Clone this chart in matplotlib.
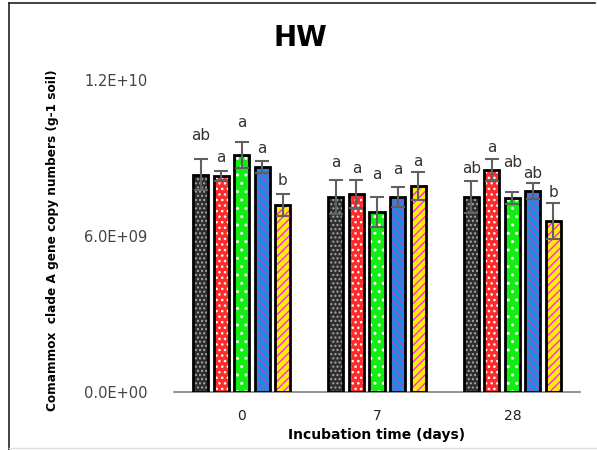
import numpy as np
import matplotlib
matplotlib.use("Agg")
import matplotlib.pyplot as plt
from matplotlib.lines import Line2D

# data (copy numbers per g soil)
days = ['0', '7', '28']
treatments = ['T1', 'T2', 'T3', 'T4', 'T5']
means = np.array([
    [8.35e9, 8.31e9, 9.12e9, 8.65e9, 7.19e9],
    [7.50e9, 7.62e9, 6.92e9, 7.50e9, 7.92e9],
    [7.50e9, 8.54e9, 7.46e9, 7.73e9, 6.58e9],
])
errs = np.array([
    [0.60e9, 0.20e9, 0.50e9, 0.23e9, 0.42e9],
    [0.65e9, 0.54e9, 0.58e9, 0.38e9, 0.54e9],
    [0.62e9, 0.42e9, 0.23e9, 0.31e9, 0.69e9],
])
letters = [
    ['ab', 'a', 'a', 'a', 'b'],
    ['a', 'a', 'a', 'a', 'a'],
    ['ab', 'a', 'ab', 'ab', 'b'],
]
letter_y = np.array([
    [9.88e9, 9.00e9, 10.35e9, 9.35e9, 8.15e9],
    [8.81e9, 8.58e9, 8.38e9, 8.54e9, 8.88e9],
    [8.58e9, 9.42e9, 8.81e9, 8.42e9, 7.69e9],
])
yticks = [0, 6e9, 1.2e10]
ytick_labels = ['0.0E+00', '6.0E+09', '1.2E+10']

# styles
faces = ['#2e2e2e', '#ff2a2a', '#11ee11', '#1a8fe0', '#ffee00']
hatch_cols = ['#a8a8a8', '#ffffff', '#ffffff', '#b040d0', '#ff20ff']
hatches = ['....', '...', '..', '\\\\\\\\', '////']

fig = plt.figure(figsize=(5.97, 4.5), dpi=100)
ax = fig.add_axes([174 / 597, 1 - 392 / 450, 406 / 597, 312 / 450])

x = np.arange(len(days))
pitch = 0.152
width = 0.112
plt.rcParams['hatch.linewidth'] = 1.0
for j in range(len(treatments)):
    xs = x + (j - 2) * pitch
    ax.bar(xs, means[:, j], width, color=faces[j], hatch=hatches[j],
           edgecolor=hatch_cols[j], linewidth=0, zorder=2)
    ax.bar(xs, means[:, j], width, fill=False, edgecolor='black',
           linewidth=2, zorder=3)
    ax.errorbar(xs, means[:, j], yerr=errs[:, j], fmt='none',
                ecolor='#606060', elinewidth=1.5, capsize=5, capthick=1.5,
                zorder=4)
    for i in range(len(days)):
        ax.text(xs[i], letter_y[i, j], letters[i][j], ha='center',
                va='center', fontsize=11, color='#333333', clip_on=False)

ax.set_xlim(-0.5, 2.5)
ax.set_ylim(0, 1.2e10)
ax.set_xticks(x)
ax.set_xticklabels(days, fontsize=10, color='#222222')
ax.set_yticks(yticks)
ax.set_yticklabels(ytick_labels, fontsize=10.5, color='#444444')
ax.tick_params(axis='both', length=0)
ax.tick_params(axis='x', pad=12)
ax.tick_params(axis='y', pad=19)
for s in ['top', 'right', 'left']:
    ax.spines[s].set_visible(False)
ax.spines['bottom'].set_color('#808080')
ax.spines['bottom'].set_linewidth(1.2)
ax.patch.set_alpha(0)

ax.set_xlabel('Incubation time (days)', fontsize=10, fontweight='bold',
              labelpad=4)
fig.text(53 / 597, 1 - 240 / 450,
         'Comammox  clade A gene copy numbers (g-1 soil)', rotation=90,
         ha='center', va='center', fontsize=8.7, fontweight='bold')
fig.text(300 / 597, 1 - 38 / 450, 'HW', ha='center', va='center',
         fontsize=20, fontweight='bold')

# outer frame
fig.add_artist(Line2D([9 / 597, 9 / 597], [0, 1 - 3 / 450], color='#222222',
                      lw=1.2))
fig.add_artist(Line2D([9 / 597, 595 / 597], [1 - 3 / 450, 1 - 3 / 450],
                      color='#222222', lw=1.2))
fig.add_artist(Line2D([9 / 597, 1], [1 - 448 / 450, 1 - 448 / 450],
                      color='#dddddd', lw=1))

fig.savefig('out.png', dpi=100)
